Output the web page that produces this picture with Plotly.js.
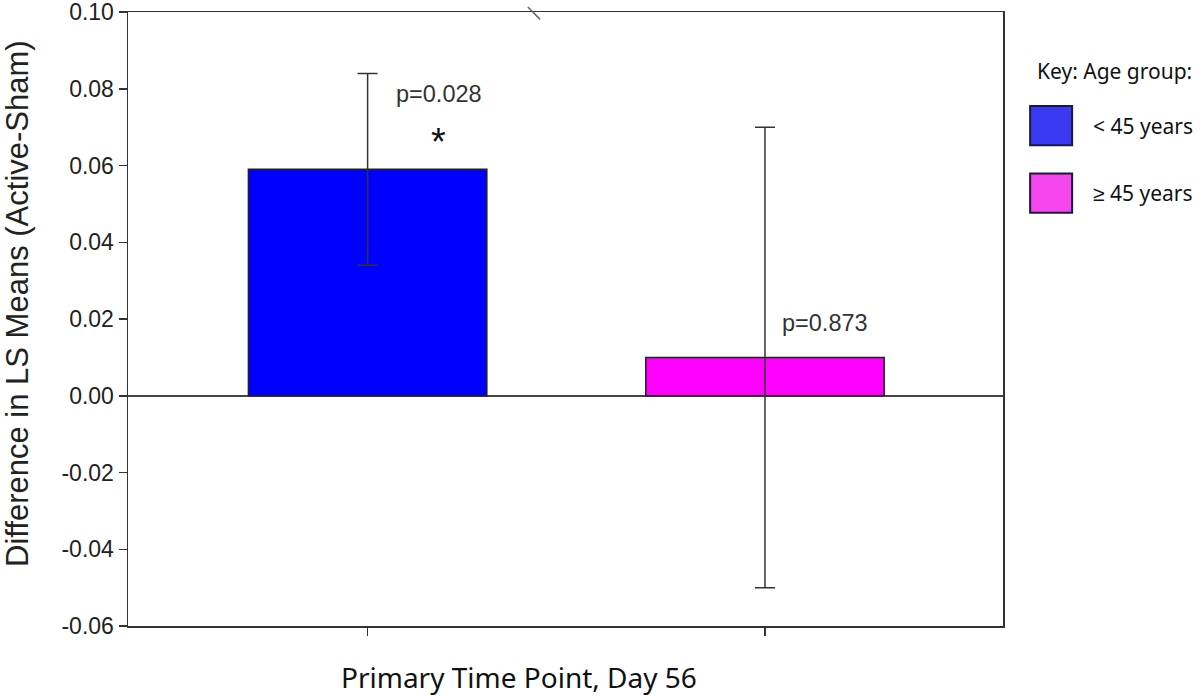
<!DOCTYPE html>
<html>
<head>
<meta charset="utf-8">
<script src="https://cdn.plot.ly/plotly-3.0.1.min.js"></script>
<style>html,body{margin:0;padding:0;background:#fff;}#chart{width:1200px;height:696px;}</style>
</head>
<body>
<div id="chart"></div>
<script>
// ---- data ----
const groups = ["< 45 years", "≥ 45 years"];
const diffMeans = [0.059, 0.010];
const ciUpper = [0.084, 0.070];
const ciLower = [0.034, -0.050];
const pValues = ["p=0.028", "p=0.873"];
const significant = [true, false];
const barColors = ["#0000FF", "#FF00FF"];
const legendColors = ["#3A3AF2", "#F545EC"];
const yTickVals = [-0.06, -0.04, -0.02, 0.00, 0.02, 0.04, 0.06, 0.08, 0.10];
const yTickText = yTickVals.map(v => v.toFixed(2));
const xTitle = "Primary Time Point, Day 56";
const yTitle = "Difference in LS Means (Active-Sham)";
const legendTitle = "Key: Age group:";

const trace = {
  type: "bar",
  x: groups,
  y: diffMeans,
  width: 0.6,
  marker: {color: barColors, line: {color: "#222", width: 1.5}},
  error_y: {
    type: "data",
    symmetric: false,
    array: ciUpper.map((u, i) => u - diffMeans[i]),
    arrayminus: ciLower.map((l, i) => diffMeans[i] - l),
    color: "#333",
    thickness: 1.5,
    width: 10
  },
  hoverinfo: "skip",
  showlegend: false
};

const annotations = [];
groups.forEach((g, i) => {
  annotations.push({
    xref: "x", yref: "y", x: i, y: i === 0 ? ciUpper[i] - 0.0053 : diffMeans[i] + 0.009,
    xshift: i === 0 ? 71 : 60,
    text: pValues[i], showarrow: false,
    font: {family: "Liberation Sans, Arial, sans-serif", size: 23.5, color: "#333"}
  });
  if (significant[i]) {
    annotations.push({
      xref: "x", yref: "y", x: i, y: ciUpper[i] - 0.018, xshift: 71,
      text: "*", showarrow: false,
      font: {family: "Liberation Sans, Arial, sans-serif", size: 38, color: "#111"}
    });
  }
});

// axis titles
annotations.push({
  xref: "paper", yref: "paper", x: 0.447, y: -0.083, xanchor: "center", yanchor: "middle",
  text: xTitle, showarrow: false,
  font: {family: "Noto Sans, sans-serif", size: 28, color: "#111"}
});
annotations.push({
  xref: "paper", yref: "paper", x: -0.1269, y: 0.526, xanchor: "center", yanchor: "middle",
  text: yTitle, showarrow: false, textangle: -90,
  font: {family: "Liberation Sans, Arial, sans-serif", size: 31, color: "#222"}
});

// legend (custom key at right)
annotations.push({
  xref: "paper", yref: "paper", x: 1.036, y: 0.904, xanchor: "left", yanchor: "middle",
  text: legendTitle, showarrow: false,
  font: {family: "Noto Sans, sans-serif", size: 21, color: "#111"}
});
const shapes = [];
const legendY = [0.815, 0.705];
groups.forEach((g, i) => {
  shapes.push({
    type: "rect", xref: "paper", yref: "paper",
    x0: 1.031, x1: 1.079, y0: legendY[i] - 0.032, y1: legendY[i] + 0.032,
    fillcolor: legendColors[i], line: {color: "#1a1a3a", width: 2}
  });
  annotations.push({
    xref: "paper", yref: "paper", x: 1.1, y: legendY[i], xanchor: "left", yanchor: "middle",
    text: g, showarrow: false,
    font: {family: "Noto Sans, sans-serif", size: 21, color: "#111"}
  });
});
// axis break mark at top
shapes.push({
  type: "line", xref: "paper", yref: "paper",
  x0: 0.457, x1: 0.471, y0: 1.008, y1: 0.988,
  line: {color: "#666", width: 1.5}
});

const layout = {
  width: 1200, height: 696,
  margin: {l: 128, r: 197, t: 12, b: 70},
  paper_bgcolor: "#fff", plot_bgcolor: "#fff",
  xaxis: {
    type: "category",
    range: [-0.603, 1.599],
    showticklabels: false,
    ticks: "outside", ticklen: 8, tickwidth: 1.5, tickcolor: "#333",
    showline: true, linecolor: "#333", linewidth: 1.5, mirror: true,
    showgrid: false, zeroline: false
  },
  yaxis: {
    range: [-0.06, 0.10],
    tickvals: yTickVals, ticktext: yTickText,
    ticklabeloverflow: "allow",
    ticks: "outside", ticklen: 8, tickwidth: 1.5, tickcolor: "#333",
    tickfont: {family: "Liberation Sans, Arial, sans-serif", size: 23, color: "#222"},
    showline: true, linecolor: "#333", linewidth: 1.5, mirror: true,
    showgrid: false,
    zeroline: true, zerolinecolor: "#444", zerolinewidth: 1.5
  },
  annotations: annotations,
  shapes: shapes,
  bargap: 0.4
};

Plotly.newPlot("chart", [trace], layout, {staticPlot: true, displayModeBar: false});
</script>
</body>
</html>
